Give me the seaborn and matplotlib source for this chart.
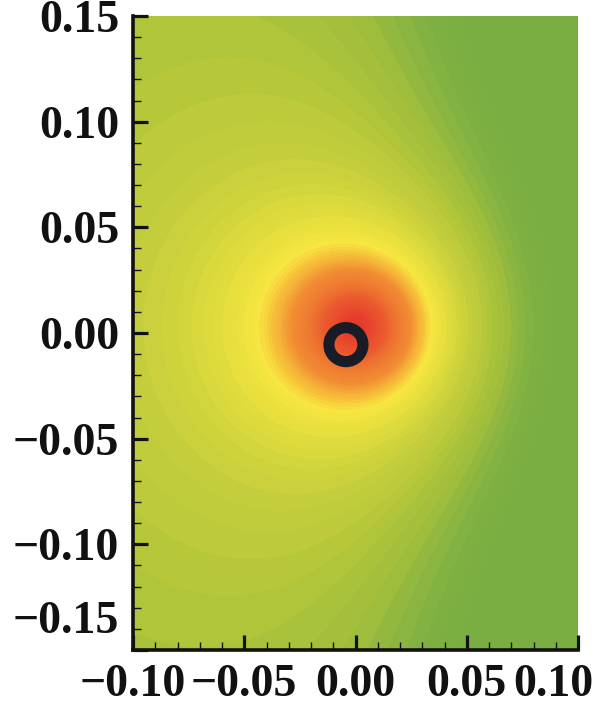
import numpy as np
import matplotlib
matplotlib.use("Agg")
import matplotlib.pyplot as plt
import seaborn as sns
from matplotlib.colors import LinearSegmentedColormap, Normalize
from matplotlib.ticker import MultipleLocator

# ---- axis ranges, ticks and tick labels ----
x_range = [-0.10, 0.10]
y_range = [-0.15, 0.15]
x_ticks = [-0.10, -0.05, 0.00, 0.05, 0.10]
y_ticks = [-0.15, -0.10, -0.05, 0.00, 0.05, 0.10, 0.15]
x_tick_labels = ["\u22120.10", "\u22120.05", "0.00", "0.05", "0.10"]
y_tick_labels = ["\u22120.15", "\u22120.10", "\u22120.05", "0.00", "0.05", "0.10", "0.15"]

# ---- field parameters ----
source_x = 0.0
source_y = 0.003
core_radius = 0.01
drift_strength = 0.17
drift_center = 0.045
drift_width = 0.065

# ---- marker location ----
marker_x = [-0.0043]
marker_y = [-0.0055]

# ---- colour stops: field value -> colour ----
stop_values = [-0.03, 0.0, 0.03, 0.0665, 0.0995, 0.124, 0.164, 0.212, 0.243, 0.316, 0.555, 0.894, 1.0]
stop_colors = ["#7aae42", "#80b141", "#9ebd3d", "#b6c73a", "#c6cf3c", "#d3d53c", "#e6df3e",
               "#f8e641", "#f6c23a", "#f18c33", "#ea5a2e", "#e63c2d", "#e4382d"]

sns.set_style("white")
plt.rcParams["font.family"] = ["Liberation Serif", "DejaVu Serif"]
plt.rcParams["font.weight"] = "bold"
plt.rcParams["axes.unicode_minus"] = True

vmin, vmax = stop_values[0], stop_values[-1]
cmap = LinearSegmentedColormap.from_list(
    "field", [((v - vmin) / (vmax - vmin), c) for v, c in zip(stop_values, stop_colors)])

xs = np.linspace(x_range[0], x_range[1], 401)
ys = np.linspace(y_range[0], y_range[1], 601)
X, Y = np.meshgrid(xs, ys)
R = np.hypot(X - source_x, Y - source_y)
V = core_radius / np.sqrt(R ** 2 + core_radius ** 2) \
    - drift_strength * (1 + np.tanh((X - drift_center) / drift_width)) / 2
V = np.clip(V, vmin, vmax)

fig = plt.figure(figsize=(6.14, 7.22), dpi=100)
ax = fig.add_axes([133 / 614, 72 / 722, 445 / 614, 634 / 722])
ax.set_axisbelow(False)

ax.contourf(X, Y, V, levels=np.linspace(vmin, vmax, 110), cmap=cmap,
            norm=Normalize(vmin, vmax), antialiased=False)

ring_color = "#191c26"
sns.scatterplot(x=marker_x, y=marker_y, s=600, marker="o", facecolor="none",
                edgecolor=ring_color, linewidth=8, ax=ax, zorder=5, legend=False)

ax.set_xlim(x_range)
ax.set_ylim(y_range)

fs = 33
xl = list(x_tick_labels)
yl = list(y_tick_labels)
xl[-1] = ""
yl[0] = ""
ax.set_xticks(x_ticks, labels=xl, fontsize=fs, fontweight="bold")
ax.set_yticks(y_ticks, labels=yl, fontsize=fs, fontweight="bold")
ax.xaxis.set_minor_locator(MultipleLocator(0.01))
ax.yaxis.set_minor_locator(MultipleLocator(0.01))
ax.tick_params(which="both", bottom=True, left=True, top=False, right=False)
ax.tick_params(which="major", direction="in", length=11, width=2.3, pad=10,
               color="#111111", labelcolor="#111111")
ax.tick_params(which="minor", direction="in", length=6, width=1.0, color="#111111")

# edge labels moved inward, as in the reference
ax.annotate(y_tick_labels[0], xy=(0, y_ticks[0]), xycoords=("axes fraction", "data"),
            xytext=(-10, 20), textcoords="offset points", ha="right", va="center",
            fontsize=fs, fontweight="bold", color="#111111", annotation_clip=False)
ax.annotate(x_tick_labels[-1], xy=(x_ticks[-1], 0), xycoords=("data", "axes fraction"),
            xytext=(-18, -10), textcoords="offset points", ha="center", va="top",
            fontsize=fs, fontweight="bold", color="#111111", annotation_clip=False)

for s in ["top", "right"]:
    ax.spines[s].set_visible(False)
for s in ["left", "bottom"]:
    ax.spines[s].set_linewidth(2.6)
    ax.spines[s].set_color("#111111")

fig.savefig("out.png", dpi=100)
